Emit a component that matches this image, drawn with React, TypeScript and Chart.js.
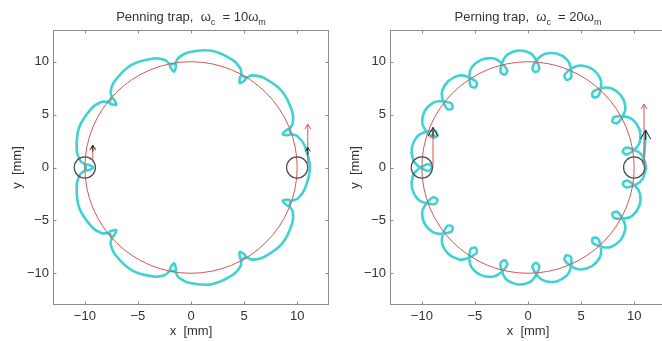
import React, { useEffect, useRef } from 'react';
import { Chart, registerables } from 'chart.js';

Chart.register(...registerables);

const FONT = "'Liberation Sans', Arial, Helvetica, sans-serif";
const CYAN = '#40d2d2';
const RED = '#d85555';
const DARK = '#4d4d4d';
const AXIS = '#8c8c8c';
const TEXT = '#333333';

// ---- axes ----
const axisMin = -13;
const axisMax = 13;
const tickValues = [-10, -5, 0, 5, 10];
const tickLabels = ['−10', '−5', '0', '5', '10'];
const xAxisLabel = 'x  [mm]';
const yAxisLabel = 'y  [mm]';

// ---- titles: [text, isSubscript] ----
const titleLeft: [string, boolean][] = [['Penning trap,  ω', false], ['c', true], ['  = 10ω', false], ['m', true]];
const titleRight: [string, boolean][] = [['Perning trap,  ω', false], ['c', true], ['  = 20ω', false], ['m', true]];

// ---- guiding circle and start / end markers ----
const guideCenter = [0, 0];
const guideRadius = 10;
const markerX = [-10, 10];
const markerY = [0, 0];
const markerRadius = 1.0;

// ---- trajectory, wc = 10 wm (x, y in mm) ----
const orbit10: [number, number][] = [
  [-9.996, -0.279], [-9.846, 0.275], [-9.2, 0], [-9.846, -0.275], [-9.996, 0.279],
  [-10.43, 0.637], [-10.766, 1.705], [-10.525, 3.83], [-9.343, 5.614], [-8.401, 6.216],
  [-7.837, 6.211], [-7.366, 6.539], [-7.047, 5.914], [-7.719, 6.118], [-7.478, 6.639],
  [-7.58, 7.194], [-7.151, 8.226], [-5.6, 9.699], [-3.549, 10.306], [-2.439, 10.162],
  [-2.011, 9.796], [-1.439, 9.745], [-1.597, 9.06], [-1.981, 9.649], [-1.461, 9.893],
  [-1.183, 10.383], [-0.191, 10.898], [1.944, 11.03], [3.907, 10.176], [4.663, 9.352],
  [4.756, 8.796], [5.161, 8.389], [4.6, 7.967], [4.685, 8.664], [5.24, 8.517],
  [5.767, 8.714], [6.859, 8.47], [8.579, 7.199], [9.533, 5.284], [9.584, 4.166],
  [9.298, 3.681], [9.347, 3.109], [8.645, 3.146], [9.159, 3.626], [9.489, 3.156],
  [10.019, 2.968], [10.699, 2.08], [11.2, 0], [10.699, -2.08], [10.019, -2.968],
  [9.489, -3.156], [9.159, -3.626], [8.645, -3.146], [9.347, -3.109], [9.298, -3.681],
  [9.584, -4.166], [9.533, -5.284], [8.579, -7.199], [6.859, -8.47], [5.767, -8.714],
  [5.24, -8.517], [4.685, -8.664], [4.6, -7.967], [5.161, -8.389], [4.756, -8.796],
  [4.663, -9.352], [3.907, -10.176], [1.944, -11.03], [-0.191, -10.898], [-1.183, -10.383],
  [-1.461, -9.893], [-1.981, -9.649], [-1.597, -9.06], [-1.439, -9.745], [-2.011, -9.796],
  [-2.439, -10.162], [-3.549, -10.306], [-5.6, -9.699], [-7.151, -8.226], [-7.58, -7.194],
  [-7.478, -6.639], [-7.719, -6.118], [-7.047, -5.914], [-7.366, -6.539], [-7.837, -6.211],
  [-8.401, -6.216], [-9.343, -5.614], [-10.525, -3.83], [-10.766, -1.705], [-10.43, -0.637],
  [-9.996, -0.279],
];

// ---- trajectory, wc = 20 wm (x, y in mm) ----
const orbit20: [number, number][] = [
  [-10.35, -0.145], [-9.394, 0.328], [-9.05, 0], [-9.394, -0.328], [-10.35, 0.145],
  [-10.825, 0.738], [-10.94, 1.879], [-10.451, 2.918],
  [-9.804, 3.318], [-8.746, 3.445], [-8.531, 3.021], [-8.965, 2.827], [-9.707, 3.59],
  [-9.972, 4.274], [-9.731, 5.338], [-8.963, 6.114],
  [-8.244, 6.258], [-7.2, 6.042], [-7.131, 5.572], [-7.605, 5.525], [-8.063, 6.485],
  [-8.089, 7.232], [-7.499, 8.184], [-6.499, 8.688],
  [-5.758, 8.601], [-4.841, 8.058], [-4.929, 7.59], [-5.392, 7.7], [-5.516, 8.758],
  [-5.294, 9.471], [-4.426, 10.18], [-3.317, 10.33],
  [-2.643, 10.006], [-1.954, 9.194], [-2.189, 8.781], [-2.591, 9.036], [-2.364, 10.077],
  [-1.94, 10.675], [-0.919, 11.062], [0.152, 10.849],
  [0.668, 10.328], [1.064, 9.34], [0.71, 9.022], [0.41, 9.391], [0.956, 10.305],
  [1.567, 10.736], [2.685, 10.77], [3.658, 10.215],
  [3.994, 9.548], [4.047, 8.484], [3.608, 8.3], [3.445, 8.746], [4.259, 9.433],
  [4.976, 9.641], [6.045, 9.31], [6.783, 8.467],
  [6.885, 7.727], [6.588, 6.705], [6.114, 6.673], [6.104, 7.148], [7.098, 7.533],
  [7.845, 7.496], [8.747, 6.834], [9.172, 5.798],
  [9.026, 5.065], [8.412, 4.194], [7.953, 4.319], [8.099, 4.771], [9.164, 4.811],
  [9.857, 4.534], [10.495, 3.614], [10.559, 2.496],
  [10.183, 1.851], [9.319, 1.227], [8.926, 1.493], [9.211, 1.874], [10.231, 1.566],
  [10.797, 1.077], [11.1, 0], [10.797, -1.077],
  [10.231, -1.566], [9.211, -1.874], [8.926, -1.493], [9.319, -1.227], [10.183, -1.851],
  [10.559, -2.496], [10.495, -3.614], [9.857, -4.534],
  [9.164, -4.811], [8.099, -4.771], [7.953, -4.319], [8.412, -4.194], [9.026, -5.065],
  [9.172, -5.798], [8.747, -6.834], [7.845, -7.496],
  [7.098, -7.533], [6.104, -7.148], [6.114, -6.673], [6.588, -6.705], [6.885, -7.727],
  [6.783, -8.467], [6.045, -9.31], [4.976, -9.641],
  [4.259, -9.433], [3.445, -8.746], [3.608, -8.3], [4.047, -8.484], [3.994, -9.548],
  [3.658, -10.215], [2.685, -10.77], [1.567, -10.736],
  [0.956, -10.305], [0.41, -9.391], [0.71, -9.022], [1.064, -9.34], [0.668, -10.328],
  [0.152, -10.849], [-0.919, -11.062], [-1.94, -10.675],
  [-2.364, -10.077], [-2.591, -9.036], [-2.189, -8.781], [-1.954, -9.194], [-2.643, -10.006],
  [-3.317, -10.33], [-4.426, -10.18], [-5.294, -9.471],
  [-5.516, -8.758], [-5.392, -7.7], [-4.929, -7.59], [-4.841, -8.058], [-5.758, -8.601],
  [-6.499, -8.688], [-7.499, -8.184], [-8.089, -7.232],
  [-8.063, -6.485], [-7.605, -5.525], [-7.131, -5.572], [-7.2, -6.042], [-8.244, -6.258],
  [-8.963, -6.114], [-9.731, -5.338], [-9.972, -4.274],
  [-9.707, -3.59], [-8.965, -2.827], [-8.531, -3.021], [-8.746, -3.445], [-9.804, -3.318],
  [-10.451, -2.918], [-10.94, -1.879], [-10.825, -0.738],
  [-10.35, -0.145],
];
const orbit20Tail: [number, number][] = [[10.85, 0.3], [11.0, 1.8], [11.08, 3.4]];

// ---- velocity arrows [x0, y0, x1, y1] ----
const redArrows10 = [[11.0, 0.2, 11.0, 4.1], [-9.25, 0.5, -9.25, 2.1]];
const blackArrows10 = [[11.0, 1.2, 11.0, 1.9], [-9.25, 1.5, -9.25, 2.1]];
const redArrows20 = [[10.93, 0.0, 10.93, 6.0], [-8.95, 0.0, -8.95, 3.3]];
const blackArrows20 = [[11.08, 2.6, 11.08, 3.55], [-8.95, 2.9, -8.95, 3.8]];

function drawArrow(ctx: CanvasRenderingContext2D, x0: number, y0: number, x1: number, y1: number, len: number, half: number) {
  ctx.beginPath();
  ctx.moveTo(x0, y0);
  ctx.lineTo(x1, y1);
  ctx.stroke();
  const ang = Math.atan2(y1 - y0, x1 - x0);
  const bx = x1 - len * Math.cos(ang);
  const by = y1 - len * Math.sin(ang);
  const nx = -Math.sin(ang) * half;
  const ny = Math.cos(ang) * half;
  ctx.beginPath();
  ctx.moveTo(bx + nx, by + ny);
  ctx.lineTo(x1, y1);
  ctx.lineTo(bx - nx, by - ny);
  ctx.stroke();
}

type PanelProps = {
  left: number;
  width: number;
  yAxisWidth: number;
  yTitlePad: number;
  padRight: number;
  title: [string, boolean][];
  path: [number, number][];
  tail?: [number, number][];
  redArrows: number[][];
  blackArrows: number[][];
  blackHead: [number, number];
};

function Panel(p: PanelProps) {
  const ref = useRef<HTMLCanvasElement | null>(null);
  useEffect(() => {
    const canvas = ref.current;
    if (!canvas) return;

    const overlay = {
      id: 'overlay',
      afterDatasetsDraw(chart: any) {
        const { ctx, chartArea, scales } = chart;
        const sx = scales.x;
        const sy = scales.y;
        const px = (v: number) => sx.getPixelForValue(v);
        const py = (v: number) => sy.getPixelForValue(v);
        ctx.save();
        ctx.beginPath();
        ctx.rect(chartArea.left, chartArea.top, chartArea.right - chartArea.left, chartArea.bottom - chartArea.top);
        ctx.clip();
        // guiding circle
        ctx.strokeStyle = RED;
        ctx.lineWidth = 1;
        ctx.beginPath();
        ctx.ellipse(
          px(guideCenter[0]), py(guideCenter[1]),
          px(guideCenter[0] + guideRadius) - px(guideCenter[0]),
          py(guideCenter[1]) - py(guideCenter[1] + guideRadius),
          0, 0, Math.PI * 2);
        ctx.stroke();
        // start / end markers
        ctx.strokeStyle = DARK;
        ctx.lineWidth = 1.2;
        for (let i = 0; i < markerX.length; i++) {
          ctx.beginPath();
          ctx.ellipse(px(markerX[i]), py(markerY[i]),
            px(markerX[i] + markerRadius) - px(markerX[i]),
            py(markerY[i]) - py(markerY[i] + markerRadius), 0, 0, Math.PI * 2);
          ctx.stroke();
        }
        // arrows
        ctx.lineWidth = 1;
        ctx.strokeStyle = RED;
        for (const a of p.redArrows) drawArrow(ctx, px(a[0]), py(a[1]), px(a[2]), py(a[3]), 5, 3);
        ctx.strokeStyle = '#222';
        for (const a of p.blackArrows) drawArrow(ctx, px(a[0]), py(a[1]), px(a[2]), py(a[3]), p.blackHead[0], p.blackHead[1]);
        ctx.restore();
      },
      afterDraw(chart: any) {
        const { ctx, chartArea, scales } = chart;
        const sx = scales.x;
        const sy = scales.y;
        const L = Math.round(chartArea.left) + 0.5;
        const R = Math.round(chartArea.right) - 0.5;
        const T = Math.round(chartArea.top) + 0.5;
        const B = Math.round(chartArea.bottom) - 0.5;
        ctx.save();
        ctx.strokeStyle = AXIS;
        ctx.lineWidth = 1;
        ctx.strokeRect(L, T, R - L, B - T);
        ctx.beginPath();
        for (const v of tickValues) {
          const x = Math.round(sx.getPixelForValue(v)) + 0.5;
          ctx.moveTo(x, B); ctx.lineTo(x, B - 3);
          ctx.moveTo(x, T); ctx.lineTo(x, T + 3);
          const y = Math.round(sy.getPixelForValue(v)) + 0.5;
          ctx.moveTo(L, y); ctx.lineTo(L + 3, y);
          ctx.moveTo(R, y); ctx.lineTo(R - 3, y);
        }
        ctx.stroke();
        // title with subscripts
        const mainFont = `13px ${FONT}`;
        const subFont = `9px ${FONT}`;
        const widths = p.title.map(([t, sub]) => {
          ctx.font = sub ? subFont : mainFont;
          return ctx.measureText(t).width;
        });
        const total = widths.reduce((s, w) => s + w, 0);
        let x = (chartArea.left + chartArea.right) / 2 - total / 2;
        ctx.fillStyle = TEXT;
        ctx.textBaseline = 'alphabetic';
        ctx.textAlign = 'left';
        p.title.forEach(([t, sub], i) => {
          ctx.font = sub ? subFont : mainFont;
          ctx.fillText(t, x, sub ? 24.5 : 20.5);
          x += widths[i];
        });
        ctx.restore();
      },
    };

    const datasets: any[] = [{
      data: p.path.map(([x, y]) => ({ x, y })),
      borderColor: CYAN,
      borderWidth: 2.6,
      pointRadius: 0,
      tension: 0.3,
      fill: false,
    }];
    if (p.tail) {
      datasets.push({
        data: p.tail.map(([x, y]) => ({ x, y })),
        borderColor: CYAN,
        borderWidth: 2.6,
        pointRadius: 0,
        tension: 0.2,
        fill: false,
      });
    }

    const tickFont = { family: FONT, size: 13 };
    const chart = new Chart(canvas, {
      type: 'line',
      data: { datasets },
      options: {
        animation: false,
        responsive: false,
        maintainAspectRatio: false,
        events: [],
        layout: { padding: { left: 0, right: p.padRight, top: 30, bottom: 0 } },
        plugins: { legend: { display: false }, tooltip: { enabled: false }, title: { display: false } },
        scales: {
          x: {
            type: 'linear',
            min: axisMin,
            max: axisMax,
            grid: { display: false, drawTicks: false },
            border: { display: false },
            afterBuildTicks: (s: any) => { s.ticks = tickValues.map((v) => ({ value: v })); },
            afterFit: (s: any) => { s.height = 36; },
            ticks: {
              autoSkip: false,
              maxRotation: 0,
              padding: 4,
              color: TEXT,
              font: tickFont,
              callback: (v: any) => tickLabels[tickValues.indexOf(Number(v))],
            },
            title: { display: true, text: xAxisLabel, color: TEXT, font: tickFont, padding: { top: 0, bottom: 1.5 } },
          },
          y: {
            type: 'linear',
            min: axisMin,
            max: axisMax,
            grid: { display: false, drawTicks: false },
            border: { display: false },
            afterBuildTicks: (s: any) => { s.ticks = tickValues.map((v) => ({ value: v })); },
            afterFit: (s: any) => { s.width = p.yAxisWidth; },
            ticks: {
              autoSkip: false,
              padding: 4,
              color: TEXT,
              font: tickFont,
              callback: (v: any) => tickLabels[tickValues.indexOf(Number(v))],
            },
            title: { display: true, text: yAxisLabel, color: TEXT, font: tickFont, padding: { top: p.yTitlePad, bottom: 0 } },
          },
        },
      } as any,
      plugins: [overlay as any],
    });
    return () => chart.destroy();
  }, []);
  return (
    <canvas
      ref={ref}
      width={p.width}
      height={341}
      style={{ position: 'absolute', left: p.left, top: 0, width: p.width, height: 341 }}
    />
  );
}

export default function App() {
  return (
    <div style={{ position: 'fixed', left: 0, top: 0, width: 662, height: 341, overflow: 'hidden', background: '#ffffff' }}>
      <Panel
        left={0}
        width={331}
        yAxisWidth={53}
        yTitlePad={10}
        padRight={2}
        title={titleLeft}
        path={orbit10}
        redArrows={redArrows10}
        blackArrows={blackArrows10}
        blackHead={[4, 2.5]}
      />
      <Panel
        left={331}
        width={340}
        yAxisWidth={59}
        yTitlePad={17}
        padRight={5}
        title={titleRight}
        path={orbit20}
        tail={orbit20Tail}
        redArrows={redArrows20}
        blackArrows={blackArrows20}
        blackHead={[9, 5]}
      />
    </div>
  );
}
